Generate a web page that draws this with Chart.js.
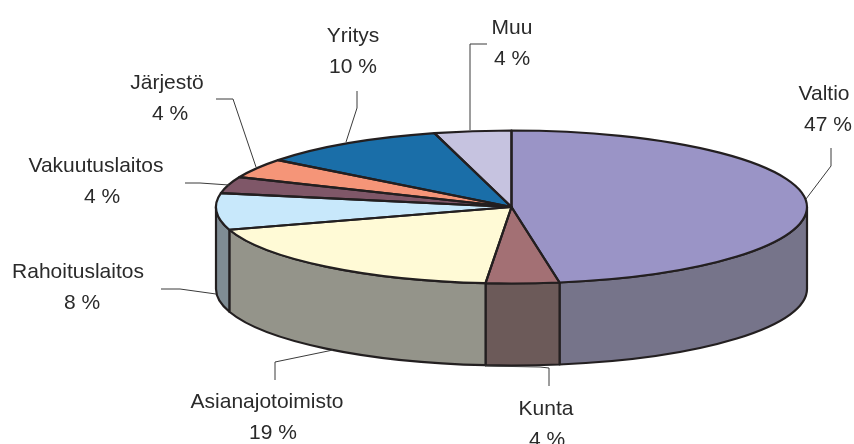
<!DOCTYPE html>
<html>
<head>
<meta charset="utf-8">
<title>Pie</title>
<script src="https://cdn.jsdelivr.net/npm/chart.js@4"></script>
<style>
  html, body { margin: 0; padding: 0; background: #fff; }
  canvas { display: block; }
</style>
</head>
<body>
<canvas id="myChart" width="854" height="444"></canvas>
<script>
// data, clockwise from 12 o'clock (read from the slice edges, labels are rounded)
const sliceLabels = ['Valtio', 'Kunta', 'Asianajotoimisto', 'Rahoituslaitos', 'Vakuutuslaitos', 'Järjestö', 'Yritys', 'Muu'];
const sliceValues = [47.4, 4.0, 18.8, 7.7, 3.5, 4.1, 10.3, 4.2];
const topColors = ['#9a94c6', '#a37074', '#fffad6', '#c8e8fb', '#7f5768', '#f59578', '#1a6ea8', '#c6c3e0'];
const sideColors = ['#76748a', '#6c5a59', '#94948a', '#7f8c94', '#5f4150', '#b87059', '#14537e', '#94929a'];

// where each callout sits: name x/y, value x/y (baselines), leader line
const callouts = [
    {nx: 824, ny: 100, vx: 828, vy: 131, line: [[831, 148], [831, 166], [806, 199]]},
    {nx: 546, ny: 415, vx: 547, vy: 446, line: [[549, 386], [549, 368], [540, 367], [485, 366]]},
    {nx: 267, ny: 408, vx: 273, vy: 439, line: [[275, 380], [275, 362], [333, 350]]},
    {nx: 78, ny: 278, vx: 82, vy: 309, line: [[161, 289], [180, 289], [216, 294]]},
    {nx: 96, ny: 172, vx: 102, vy: 203, line: [[185, 183], [200, 183], [229, 185]]},
    {nx: 167, ny: 89, vx: 170, vy: 120, line: [[216, 99], [233, 99], [256, 167]]},
    {nx: 353, ny: 42, vx: 353, vy: 73, line: [[357, 91], [357, 108], [346, 142]]},
    {nx: 512, ny: 34, vx: 512, vy: 65, line: [[487, 44], [470, 44], [470, 130]]},
];

const squash = 76.5 / 295.5;
const depth = 82;
const edgeColor = '#231f20';
const edgeWidth = 2.2;

// squashes the pie into an ellipse and adds the wall under it
const pie3d = {
    id: 'pie3d',
    beforeDatasetsDraw(chart) {
        const ctx = chart.ctx;
        const arcs = chart.getDatasetMeta(0).data;
        ctx.save();
        ctx.lineWidth = edgeWidth;
        ctx.lineJoin = 'round';
        ctx.strokeStyle = edgeColor;
        arcs.forEach((arc, i) => {
            const a = Math.max(arc.startAngle, 0);
            const b = Math.min(arc.endAngle, Math.PI);
            if (b <= a) return;
            const rx = arc.outerRadius, ry = rx * squash;
            ctx.beginPath();
            ctx.ellipse(arc.x, arc.y, rx, ry, 0, a, b);
            ctx.ellipse(arc.x, arc.y + depth, rx, ry, 0, b, a, true);
            ctx.closePath();
            ctx.fillStyle = sideColors[i];
            ctx.fill();
            ctx.stroke();
        });
        ctx.restore();

        const first = arcs[0];
        ctx.save();
        ctx.translate(first.x, first.y);
        ctx.scale(1, squash);
        ctx.translate(-first.x, -first.y);
    },
    afterDatasetsDraw(chart) {
        const ctx = chart.ctx;
        ctx.restore();
        // outlines done here so the stroke does not get squashed too
        ctx.save();
        ctx.lineWidth = edgeWidth;
        ctx.lineJoin = 'round';
        ctx.strokeStyle = edgeColor;
        chart.getDatasetMeta(0).data.forEach((arc) => {
            ctx.beginPath();
            ctx.moveTo(arc.x, arc.y);
            ctx.ellipse(arc.x, arc.y, arc.outerRadius, arc.outerRadius * squash, 0, arc.startAngle, arc.endAngle);
            ctx.closePath();
            ctx.stroke();
        });
        ctx.restore();
    },
    afterDraw(chart) {
        const ctx = chart.ctx;
        ctx.save();
        ctx.font = '21px "Liberation Sans", Arial, sans-serif';
        ctx.textAlign = 'center';
        ctx.fillStyle = '#2a2a2a';
        ctx.strokeStyle = '#3a3a3a';
        ctx.lineWidth = 1;
        callouts.forEach((c, i) => {
            ctx.fillText(sliceLabels[i], c.nx, c.ny);
            ctx.fillText(Math.round(sliceValues[i]) + ' %', c.vx, c.vy);
            ctx.beginPath();
            c.line.forEach((p, j) => j ? ctx.lineTo(p[0], p[1]) : ctx.moveTo(p[0], p[1]));
            ctx.stroke();
        });
        ctx.restore();
    }
};

const config = {
    type: 'pie',
    data: {
        labels: sliceLabels,
        datasets: [{
            data: sliceValues,
            backgroundColor: topColors,
            borderWidth: 0,
            clip: false
        }]
    },
    options: {
        responsive: false,
        animation: false,
        events: [],
        radius: 295.5,
        layout: {padding: {left: 169, bottom: 30}},
        plugins: {
            legend: {display: false},
            tooltip: {enabled: false}
        }
    },
    plugins: [pie3d]
};

const myChart = new Chart(document.getElementById('myChart'), config);
</script>
</body>
</html>
